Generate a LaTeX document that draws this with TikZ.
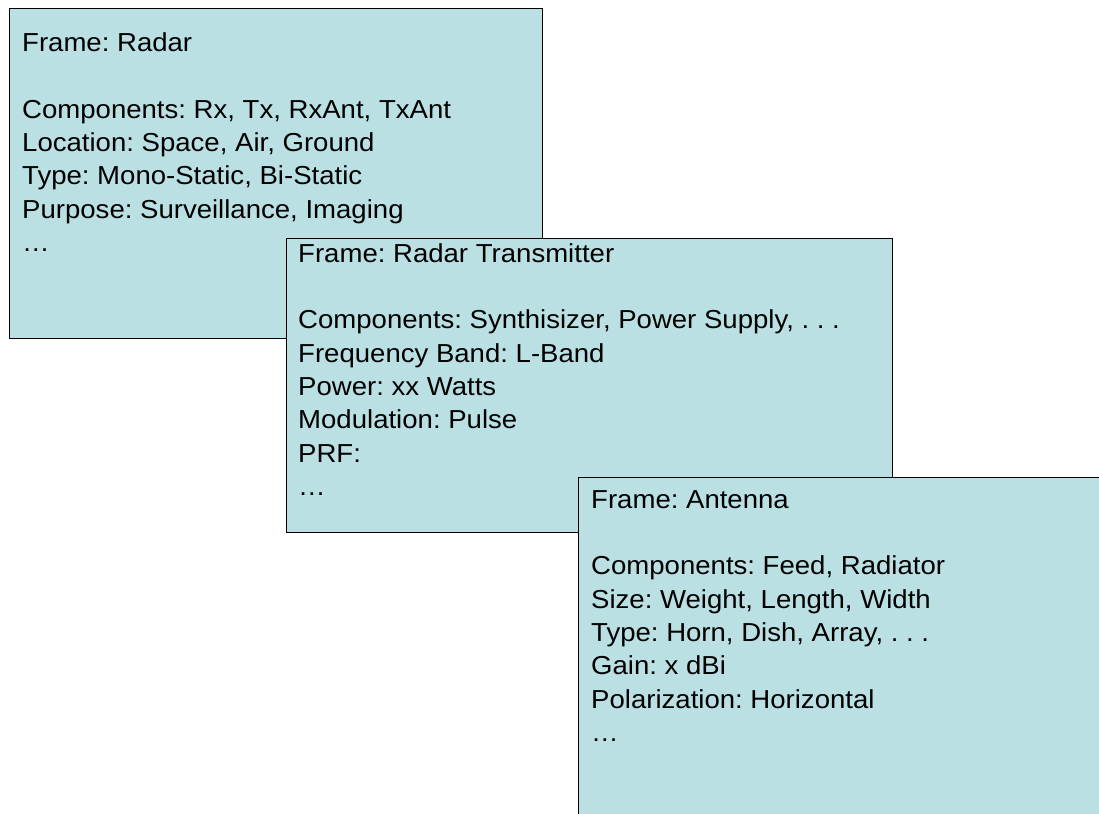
\documentclass[tikz,border=0pt]{standalone}
\usepackage{fontspec}
\setmainfont{Liberation Sans}[FakeStretch=1.06]
\definecolor{framefill}{RGB}{187,224,227}
\frenchspacing
\begin{document}
\begin{tikzpicture}[x=1pt,y=1pt,
  framebox/.style={draw=black,fill=framefill,line width=1.2pt,rectangle,inner sep=0pt,anchor=north west},
  frametext/.style={anchor=base west,inner sep=0pt,font=\fontsize{26}{33.3}\selectfont}]
\useasboundingbox (0,0) rectangle (1099,-813);
\clip (0,0) rectangle (1099,-813);
% Box 1
\node[framebox,minimum width=533pt,minimum height=330pt] (b1) at (9,-8) {};
\node[frametext] (t1) at ([xshift=13pt,yshift=-43.7pt]b1.north west) {\begin{tabular}[t]{@{}l@{}}
Frame: Radar\\
\\
Components: Rx, Tx, RxAnt, TxAnt\\
Location: Space, Air, Ground\\
Type: Mono-Static, Bi-Static\\
Purpose: Surveillance, Imaging\\
…
\end{tabular}};
% Box 2
\node[framebox,minimum width=606pt,minimum height=294pt] (b2) at (286,-238) {};
\node[frametext] (t2) at ([xshift=12pt,yshift=-24.3pt]b2.north west) {\begin{tabular}[t]{@{}l@{}}
Frame: Radar Transmitter\\
\\
Components: Synthisizer, Power Supply, . . .\\
Frequency Band: L-Band\\
Power: xx Watts\\
Modulation: Pulse\\
PRF:\\
…
\end{tabular}};
% Box 3
\node[framebox,minimum width=540pt,minimum height=350pt] (b3) at (578,-477) {};
\node[frametext] (t3) at ([xshift=13pt,yshift=-31.3pt]b3.north west) {\begin{tabular}[t]{@{}l@{}}
Frame: Antenna\\
\\
Components: Feed, Radiator\\
Size: Weight, Length, Width\\
Type: Horn, Dish, Array, . . .\\
Gain: x dBi\\
Polarization: Horizontal\\
…
\end{tabular}};
\end{tikzpicture}
\end{document}
